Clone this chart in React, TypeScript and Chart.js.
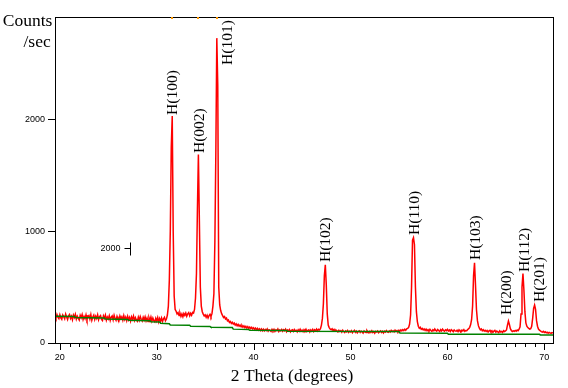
import React, { useEffect, useRef } from 'react';
import { Chart, registerables } from 'chart.js';

Chart.register(...registerables);

// Sampling of the measured pattern (2θ, degrees)
const THETA_START = 19.5;
const THETA_STEP = 0.1;

// Counts/sec, 19.5–19.9
const counts19 = [246, 222, 255, 231, 218];
// 20.0–29.9
const counts20s = [
  253, 225, 212, 251, 236, 217, 259, 233, 210, 243,
  255, 220, 239, 208, 250, 228, 257, 214, 240, 222,
  206, 248, 226, 254, 211, 238, 217, 251, 209, 235,
  245, 213, 253, 204, 233, 249, 210, 239, 219, 252,
  208, 236, 246, 212, 201, 243, 222, 250, 205, 233,
  215, 244, 202, 231, 242, 207, 248, 220, 203, 238,
  212, 198, 242, 218, 235, 204, 245, 209, 231, 200,
  238, 207, 229, 196, 234, 211, 241, 201, 227, 206,
  194, 231, 203, 237, 212, 197, 230, 205, 234, 199,
  224, 192, 228, 202, 232, 195, 223, 200, 189, 221,
];
// 30.0–39.9
const counts30s = [
  197, 227, 188, 219, 195, 224, 192, 216, 230, 198,
  214, 250, 330, 560, 1000, 1750, 2030, 1000, 420, 300,
  284, 260, 272, 246, 267, 238, 260, 234, 264, 247,
  268, 239, 261, 272, 243, 265, 248, 274, 268, 300,
  400, 620, 1200, 1686, 1100, 500, 330, 280, 258, 242,
  252, 230, 249, 224, 245, 257, 236, 262, 330, 440,
  900, 1700, 2726, 2300, 500, 340, 290, 262, 245, 228,
  236, 214, 222, 198, 205, 184, 193, 176, 186, 170,
  178, 160, 171, 154, 166, 150, 161, 145, 157, 142,
  153, 138, 149, 134, 146, 131, 143, 128, 140, 126,
];
// 40.0–49.9
const counts40s = [
  136, 122, 133, 118, 130, 115, 127, 112, 125, 110,
  124, 108, 121, 111, 126, 106, 119, 113, 104, 122,
  109, 123, 104, 118, 111, 126, 102, 117, 108, 121,
  105, 119, 110, 124, 101, 116, 107, 120, 99, 114,
  118, 103, 121, 108, 114, 100, 119, 106, 123, 104,
  115, 101, 120, 109, 124, 103, 113, 118, 99, 117,
  106, 121, 103, 119, 110, 125, 108, 122, 116, 128,
  160, 220, 350, 600, 700, 520, 260, 160, 138, 125,
  118, 127, 110, 121, 104, 116, 109, 99, 113, 103,
  110, 97, 114, 102, 93, 108, 100, 112, 95, 105,
];
// 50.0–59.9
const counts50s = [
  99, 110, 92, 104, 113, 96, 107, 90, 102, 108,
  94, 106, 98, 88, 108, 100, 93, 111, 97, 91,
  105, 95, 109, 93, 102, 87, 104, 98, 107, 92,
  101, 108, 94, 104, 90, 106, 97, 111, 100, 95,
  107, 98, 113, 102, 109, 99, 115, 104, 111, 101,
  114, 105, 117, 109, 120, 111, 123, 114, 126, 130,
  140, 170, 250, 500, 920, 942, 880, 500, 280, 190,
  150, 132, 141, 122, 130, 117, 126, 113, 124, 110,
  119, 108, 123, 112, 104, 118, 109, 125, 113, 106,
  120, 111, 103, 119, 108, 124, 112, 105, 117, 110,
];
// 60.0–69.9
const counts60s = [
  122, 107, 116, 103, 119, 111, 101, 117, 108, 105,
  114, 102, 118, 107, 99, 115, 108, 120, 104, 112,
  110, 121, 128, 140, 165, 210, 330, 600, 717, 520,
  300, 200, 155, 132, 118, 126, 110, 119, 106, 114,
  103, 112, 98, 108, 114, 100, 110, 95, 106, 113,
  97, 107, 100, 93, 109, 99, 104, 95, 111, 103,
  108, 117, 160, 197, 165, 128, 112, 103, 109, 105,
  112, 106, 116, 110, 123, 145, 260, 500, 620, 470,
  280, 180, 150, 138, 130, 124, 128, 150, 220, 310,
  340, 300, 200, 150, 125, 115, 108, 102, 97, 104,
];
// 70.0–70.9
const counts70s = [94, 100, 91, 97, 88, 95, 90, 86, 93, 89];

// Fitted background (green)
const bgTheta = [19.5, 21.5, 21.6, 24.6, 24.7, 27.0, 27.1, 29.3, 29.4, 30.3, 30.4, 31.3, 31.4, 33.4, 33.5, 35.5, 35.6, 37.8, 37.9, 39.5, 39.6, 43.4, 43.5, 55.0, 55.1, 60.0, 60.1, 69.5, 69.6, 70.9];
const bgCounts = [239, 236, 227, 224, 215, 211, 204, 200, 191, 188, 177, 172, 161, 159, 150, 148, 140, 138, 124, 120, 114, 112, 104, 102, 90, 88, 78, 78, 72, 72];

// Peak labels (anchor = start of the vertical text, in data units)
const peakLabels = ['H(100)', 'H(002)', 'H(101)', 'H(102)', 'H(110)', 'H(103)', 'H(200)', 'H(112)', 'H(201)'];
const labelTheta = [31.68, 34.44, 37.33, 47.44, 56.63, 62.99, 66.12, 68.05, 69.53];
const labelCounts = [2039, 1699, 2486, 724, 966, 742, 250, 635, 367];

// Reference markers on the top frame
const markerTheta = [31.6, 34.3, 36.2];

// Axes
const X_MIN = 19.5;
const X_MAX = 70.9;
const Y_MIN = 0;
const Y_MAX = 2915;
const xTickValues = [20, 21, 22, 23, 24, 25, 26, 27, 28, 29, 30, 31, 32, 33, 34, 35, 36, 37, 38, 39, 40, 41, 42, 43, 44, 45, 46, 47, 48, 49, 50, 51, 52, 53, 54, 55, 56, 57, 58, 59, 60, 61, 62, 63, 64, 65, 66, 67, 68, 69, 70];
const xLabelValues = [20, 30, 40, 50, 60, 70];
const yTickValues = [0, 1000, 2000];
const xTitle = '2 Theta (degrees)';
const yTitleLines = ['Counts', '/sec'];

// Intensity scale mark
const scaleMarkText = '2000';
const scaleMarkTheta = 27.27;
const scaleMarkCounts = 849;

const allCounts = [...counts19, ...counts20s, ...counts30s, ...counts40s, ...counts50s, ...counts60s, ...counts70s];

const overlay = {
  id: 'overlay',
  afterDraw(chart: any) {
    const { ctx, chartArea: a, scales } = chart;
    const x = scales.x;
    const y = scales.y;
    ctx.save();
    ctx.strokeStyle = '#000';
    ctx.lineWidth = 1;
    // frame
    ctx.strokeRect(a.left + 0.5, a.top + 0.5, a.right - a.left, a.bottom - a.top);
    // x ticks
    ctx.beginPath();
    for (const t of x.ticks) {
      const px = Math.round(x.getPixelForValue(t.value)) + 0.5;
      const major = xLabelValues.includes(t.value);
      ctx.moveTo(px, a.bottom + 1);
      ctx.lineTo(px, a.bottom + 1 + (major ? 6 : 3));
    }
    // y ticks
    for (const t of y.ticks) {
      const py = Math.round(y.getPixelForValue(t.value)) + 0.5;
      ctx.moveTo(a.left - 7, py);
      ctx.lineTo(a.left, py);
    }
    ctx.stroke();

    // markers on top frame
    ctx.fillStyle = '#ff9900';
    for (const m of markerTheta) {
      const px = Math.round(x.getPixelForValue(m));
      ctx.fillRect(px - 1, a.top, 2, 2);
    }

    // peak labels
    ctx.fillStyle = '#000';
    ctx.font = '15.5px "Liberation Serif"';
    ctx.textAlign = 'left';
    ctx.textBaseline = 'middle';
    peakLabels.forEach((lab, i) => {
      const px = x.getPixelForValue(labelTheta[i]);
      const py = y.getPixelForValue(labelCounts[i]);
      ctx.save();
      ctx.translate(px, py);
      ctx.rotate(-Math.PI / 2);
      ctx.fillText(lab, 0, 0);
      ctx.restore();
    });

    // intensity scale mark
    const sx = Math.round(x.getPixelForValue(scaleMarkTheta)) + 0.5;
    const sy = Math.round(y.getPixelForValue(scaleMarkCounts)) + 0.5;
    ctx.beginPath();
    ctx.moveTo(sx - 6, sy);
    ctx.lineTo(sx, sy);
    ctx.moveTo(sx, sy - 6);
    ctx.lineTo(sx, sy + 7);
    ctx.stroke();
    ctx.font = '9px "Liberation Sans"';
    ctx.textAlign = 'right';
    ctx.textBaseline = 'middle';
    ctx.fillText(scaleMarkText, sx - 10, sy);

    // titles
    ctx.font = '17.5px "Liberation Serif"';
    ctx.textAlign = 'right';
    ctx.textBaseline = 'alphabetic';
    ctx.fillText(yTitleLines[0], a.left - 2.7, 26);
    ctx.fillText(yTitleLines[1], a.left - 4.3, 47);
    ctx.textAlign = 'center';
    ctx.fillText(xTitle, 292, 381);
    ctx.restore();
  },
};

export default function App() {
  const ref = useRef<HTMLCanvasElement | null>(null);

  useEffect(() => {
    const canvas = ref.current;
    if (!canvas) return;
    const points = allCounts.map((c, i) => ({ x: Math.round((THETA_START + i * THETA_STEP) * 100) / 100, y: c }));
    const bg = bgTheta.map((t, i) => ({ x: t, y: bgCounts[i] }));
    const tickFont = { family: '"Liberation Sans"', size: 9 };
    const chart = new Chart(canvas, {
      type: 'line',
      data: {
        datasets: [
          {
            label: 'Background',
            data: bg,
            borderColor: '#008000',
            borderWidth: 1.5,
            pointRadius: 0,
            tension: 0,
            order: 0,
          },
          {
            label: 'Counts/sec',
            data: points,
            borderColor: '#ff0000',
            borderWidth: 1.5,
            pointRadius: 0,
            tension: 0,
            order: 1,
          },
        ],
      },
      options: {
        animation: false,
        responsive: false,
        devicePixelRatio: 1,
        layout: { padding: { top: 17, right: 15, left: 0, bottom: 0 } },
        plugins: { legend: { display: false }, tooltip: { enabled: false } },
        scales: {
          x: {
            type: 'linear',
            min: X_MIN,
            max: X_MAX,
            afterBuildTicks: (s: any) => {
              s.ticks = xTickValues.map((v) => ({ value: v }));
            },
            afterFit: (s: any) => {
              s.height = 45;
            },
            border: { display: false },
            grid: { display: true, drawOnChartArea: false, drawTicks: true, tickLength: 7, color: 'rgba(0,0,0,0)' },
            ticks: {
              autoSkip: false,
              maxRotation: 0,
              minRotation: 0,
              padding: 2,
              color: '#000',
              font: tickFont,
              callback: (v: any) => (xLabelValues.includes(v) ? String(v) : ''),
            },
          },
          y: {
            type: 'linear',
            min: Y_MIN,
            max: Y_MAX,
            afterBuildTicks: (s: any) => {
              s.ticks = yTickValues.map((v) => ({ value: v }));
            },
            afterFit: (s: any) => {
              s.width = 55;
            },
            border: { display: false },
            grid: { display: true, drawOnChartArea: false, drawTicks: true, tickLength: 7, color: 'rgba(0,0,0,0)' },
            ticks: {
              padding: 3,
              color: '#000',
              font: tickFont,
              callback: (v: any) => String(v),
            },
          },
        },
      },
      plugins: [overlay],
    } as any);
    return () => chart.destroy();
  }, []);

  return (
    <div style={{ position: 'absolute', left: 0, top: 0, width: 568, height: 388, background: '#fff' }}>
      <canvas ref={ref} width={568} height={388} style={{ display: 'block' }} />
    </div>
  );
}
